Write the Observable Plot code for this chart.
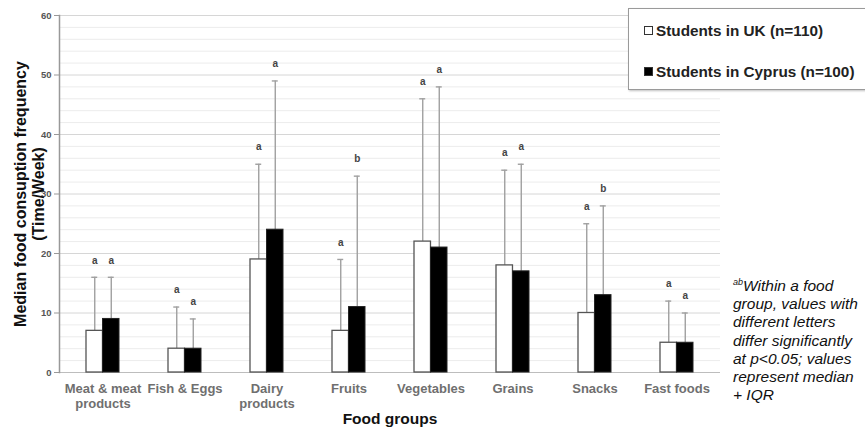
<!DOCTYPE html>
<html>
<head>
<meta charset="utf-8">
<script src="https://cdn.jsdelivr.net/npm/d3@7"></script>
<script src="https://cdn.jsdelivr.net/npm/@observablehq/plot@0.6"></script>
<style>
  html, body { margin: 0; padding: 0; background: #fff; }
  #wrap { position: relative; width: 865px; height: 432px; overflow: hidden; font-family: "Liberation Sans", Arial, sans-serif; }
  #legend { position: absolute; left: 628px; top: 8px; width: 260px; height: 80px; border: 1.5px solid #9a9a9a; background: #fff; box-shadow: 1px 1px 2px rgba(0,0,0,0.25); }
  .li { position: absolute; left: 15px; font-weight: bold; font-size: 15.3px; color: #222; white-space: nowrap; line-height: 18px; }
  .sw { display: inline-block; width: 7px; height: 7px; border: 1px solid #333; margin-right: 3px; vertical-align: 1px; }
  #note { position: absolute; left: 733px; top: 277px; font-style: italic; font-size: 15.5px; line-height: 18.2px; color: #111; white-space: nowrap; }
  #note sup { font-size: 9px; vertical-align: 6px; line-height: 0; }
</style>
</head>
<body>
<div id="wrap">
  <div id="chart"></div>
  <div id="legend"></div>
  <div id="note"></div>
</div>
<script>
const categories = ["Meat & meat products", "Fish & Eggs", "Dairy products", "Fruits", "Vegetables", "Grains", "Snacks", "Fast foods"];
const tickLabels = ["Meat & meat\nproducts", "Fish & Eggs", "Dairy\nproducts", "Fruits", "Vegetables", "Grains", "Snacks", "Fast foods"];
const ukMedian = [7, 4, 19, 7, 22, 18, 10, 5];
const ukUpper  = [16, 11, 35, 19, 46, 34, 25, 12];
const cyMedian = [9, 4, 24, 11, 21, 17, 13, 5];
const cyUpper  = [16, 9, 49, 33, 48, 35, 28, 10];
const ukLetters = ["a", "a", "a", "a", "a", "a", "a", "a"];
const cyLetters = ["a", "a", "a", "b", "a", "a", "b", "a"];
const seriesNames = ["Students in UK (n=110)", "Students in Cyprus (n=100)"];
const yTicks = [0, 10, 20, 30, 40, 50, 60];
const minorTicks = [2, 4, 6, 8, 12, 14, 16, 18, 22, 24, 26, 28, 32, 34, 36, 38, 42, 44, 46, 48, 52, 54, 56, 58];
const yTitle = "Median food consuption frequency\n(Time/Week)";
const xTitle = "Food groups";
const noteLines = ["Within a food", "group, values with", "different letters", "differ significantly", "at p<0.05; values", "represent median", "+ IQR"];

const uk = categories.map((c, i) => ({category: c, median: ukMedian[i], upper: ukUpper[i], letter: ukLetters[i]}));
const cy = categories.map((c, i) => ({category: c, median: cyMedian[i], upper: cyUpper[i], letter: cyLetters[i]}));
const labelOf = new Map(categories.map((c, i) => [c, tickLabels[i]]));

const W = 865, H = 432;
const mL = 59, mR = 145, mT = 15, mB = 60;
const bw = (W - mL - mR) / categories.length * 0.4; // bandwidth of pair
const half = bw / 2;
const off = half / 2;

const chart = Plot.plot({
  width: W, height: H,
  marginLeft: mL, marginRight: mR, marginTop: mT, marginBottom: mB,
  style: {fontFamily: "'Liberation Sans', Arial, sans-serif", background: "#fff"},
  x: {domain: categories, paddingInner: 0.6, paddingOuter: 0.3, axis: null},
  y: {domain: [0, 60], axis: null},
  marks: [
    Plot.ruleY(minorTicks, {stroke: "#ececec", strokeWidth: 1}),
    Plot.ruleY(yTicks.filter(d => d > 0), {stroke: "#d6d6d6", strokeWidth: 1}),
    Plot.ruleY([0], {stroke: "#bdbdbd", strokeWidth: 1.2}),
    Plot.axisY({ticks: yTicks, tickSize: 5, tickPadding: 3, fontSize: 9.5, fontWeight: "bold", fill: "#555", stroke: "#999", label: null}),
    Plot.frame({anchor: "left", stroke: "#999", strokeWidth: 1.5}),
    Plot.axisX({tickSize: 0, tickPadding: 10, tickFormat: d => labelOf.get(d), fontSize: 13, fontWeight: "bold", fill: "#6f6f6f", lineHeight: 1.15, label: null}),
    // whiskers
    Plot.ruleX(uk, {x: "category", y1: "median", y2: "upper", dx: -off, stroke: "#a0a0a0", strokeWidth: 1.4}),
    Plot.ruleX(cy, {x: "category", y1: "median", y2: "upper", dx: off, stroke: "#a0a0a0", strokeWidth: 1.4}),
    Plot.tickY(uk, {x: "category", y: "upper", dx: -off, insetLeft: half - 3, insetRight: half - 3, stroke: "#a0a0a0", strokeWidth: 1.4}),
    Plot.tickY(cy, {x: "category", y: "upper", dx: off, insetLeft: half - 3, insetRight: half - 3, stroke: "#a0a0a0", strokeWidth: 1.4}),
    // bars
    Plot.barY(uk, {x: "category", y: "median", insetRight: half, fill: "#fff", stroke: "#555", strokeWidth: 1.3}),
    Plot.barY(cy, {x: "category", y: "median", insetLeft: half, fill: "#000", stroke: "#222", strokeWidth: 1}),
    // significance letters
    Plot.text(uk, {x: "category", y: "upper", text: "letter", dx: -off, dy: -17, fontSize: 10, fontWeight: "bold", fill: "#444"}),
    Plot.text(cy, {x: "category", y: "upper", text: "letter", dx: off, dy: -17, fontSize: 10, fontWeight: "bold", fill: "#444"}),
    // axis titles
    Plot.text([xTitle], {frameAnchor: "bottom", dy: 51, fontSize: 15.5, fontWeight: "bold", fill: "#111"}),
    Plot.text([yTitle], {frameAnchor: "left", textAnchor: "middle", dx: -30, rotate: -90, fontSize: 16, fontWeight: "bold", fill: "#111", lineHeight: 1.12})
  ]
});
document.getElementById("chart").appendChild(chart);

const legend = d3.select("#legend");
const fills = ["#fff", "#000"];
const tops = [13, 54];
seriesNames.forEach((name, i) => {
  const item = legend.append("div").attr("class", "li").style("top", tops[i] + "px");
  item.append("span").attr("class", "sw").style("background", fills[i]);
  item.append("span").text(name);
});

const note = d3.select("#note");
noteLines.forEach((t, i) => {
  const line = note.append("div");
  if (i === 0) line.append("sup").text("ab");
  line.append("span").text(t);
});
</script>
</body>
</html>
